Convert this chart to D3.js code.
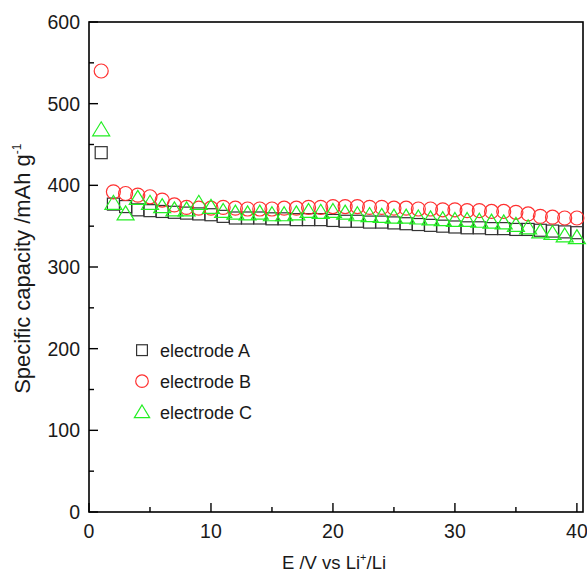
<!DOCTYPE html>
<html>
<head>
<meta charset="utf-8">
<script src="https://cdn.jsdelivr.net/npm/d3@7"></script>
<style>
  html, body { margin: 0; padding: 0; background: #fff; }
  svg { display: block; font-family: "Liberation Sans", Arial, sans-serif; }
</style>
</head>
<body>
<svg id="chart" width="587" height="573"></svg>
<script>
// Cycle number (x) for each measured point
const cycles = d3.range(1, 41);

// Specific capacity (mAh/g) per cycle for each electrode
const electrodeA = [440, 377, 374, 370, 369, 368, 367, 366, 365, 364,
                    362, 360, 360, 360, 359, 359, 358, 358, 358, 357,
                    356, 356, 355, 355, 354, 353, 352, 351, 350, 349,
                    348, 348, 347, 347, 346, 346, 345, 344, 343, 342];
const electrodeB = [540, 392, 390, 388, 386, 382, 376, 373, 372, 372,
                    373, 372, 371, 371, 371, 372, 372, 373, 373, 374,
                    374, 374, 373, 373, 372, 372, 371, 371, 370, 370,
                    369, 369, 368, 368, 367, 365, 362, 361, 360, 360];
const electrodeC = [468, 378, 365, 384, 378, 374, 370, 370, 378, 373,
                    368, 366, 365, 366, 364, 364, 365, 368, 367, 368,
                    366, 364, 363, 362, 361, 361, 360, 359, 358, 357,
                    357, 356, 355, 354, 351, 348, 343, 341, 338, 336];

const seriesNames = ["electrode A", "electrode B", "electrode C"];
const xTicks = [0, 10, 20, 30, 40];
const yTicks = [0, 100, 200, 300, 400, 500, 600];

const svg = d3.select("#chart");
const plotLeft = 89, plotRight = 583, plotTop = 22, plotBottom = 512;

const x = d3.scaleLinear().domain([0, 40.5]).range([plotLeft, plotRight]);
const y = d3.scaleLinear().domain([0, 600]).range([plotBottom, plotTop]);

const styles = [
  { color: "#333333", shape: "square" },
  { color: "#ff3030", shape: "circle" },
  { color: "#22ee22", shape: "triangle" }
];

// Frame
svg.append("rect")
  .attr("x", plotLeft).attr("y", plotTop)
  .attr("width", plotRight - plotLeft).attr("height", plotBottom - plotTop)
  .attr("fill", "none").attr("stroke", "#000").attr("stroke-width", 1.6);

// Inward ticks: major + minor
const tickColor = "#000";
const xMinor = d3.range(5, 41, 10);
const yMinor = d3.range(50, 600, 100);

svg.append("g").selectAll("line").data(xTicks).join("line")
  .attr("x1", d => x(d)).attr("x2", d => x(d))
  .attr("y1", plotBottom).attr("y2", plotBottom - 9)
  .attr("stroke", tickColor).attr("stroke-width", 1.4);
svg.append("g").selectAll("line").data(xMinor).join("line")
  .attr("x1", d => x(d)).attr("x2", d => x(d))
  .attr("y1", plotBottom).attr("y2", plotBottom - 5)
  .attr("stroke", tickColor).attr("stroke-width", 1.4);
svg.append("g").selectAll("line").data(yTicks).join("line")
  .attr("x1", plotLeft).attr("x2", plotLeft + 9)
  .attr("y1", d => y(d)).attr("y2", d => y(d))
  .attr("stroke", tickColor).attr("stroke-width", 1.4);
svg.append("g").selectAll("line").data(yMinor).join("line")
  .attr("x1", plotLeft).attr("x2", plotLeft + 5)
  .attr("y1", d => y(d)).attr("y2", d => y(d))
  .attr("stroke", tickColor).attr("stroke-width", 1.4);

// Tick labels
svg.append("g").selectAll("text").data(xTicks).join("text")
  .attr("x", d => x(d)).attr("y", plotBottom + 25.5)
  .attr("text-anchor", "middle").attr("font-size", 19.5).attr("fill", "#1a1a1a")
  .text(d => d);
svg.append("g").selectAll("text").data(yTicks).join("text")
  .attr("x", plotLeft - 9).attr("y", d => y(d) + 7)
  .attr("text-anchor", "end").attr("font-size", 19.5).attr("fill", "#1a1a1a")
  .text(d => d);

// Axis titles
const xt = svg.append("text")
  .attr("x", 334).attr("y", 569)
  .attr("text-anchor", "middle").attr("font-size", 18.5).attr("fill", "#1a1a1a");
xt.append("tspan").text("E /V vs Li");
xt.append("tspan").attr("font-size", 11).attr("dy", -8).text("+");
xt.append("tspan").attr("dy", 8).text("/Li");

const yt = svg.append("text")
  .attr("transform", `translate(30, ${y(298)}) rotate(-90)`)
  .attr("text-anchor", "middle").attr("font-size", 22).attr("fill", "#1a1a1a");
yt.append("tspan").text("Specific capacity /mAh g");
yt.append("tspan").attr("font-size", 12).attr("dy", -9).text("-1");

// Marker drawing
function drawMarker(g, shape, color, cx, cy, s = 1) {
  if (shape === "square") {
    g.append("rect").attr("x", cx - 6 * s).attr("y", cy - 6 * s)
      .attr("width", 12 * s).attr("height", 12 * s)
      .attr("fill", "none").attr("stroke", color).attr("stroke-width", 1.2);
  } else if (shape === "circle") {
    g.append("circle").attr("cx", cx).attr("cy", cy).attr("r", 7 * s)
      .attr("fill", "none").attr("stroke", color).attr("stroke-width", 1.2);
  } else {
    g.append("path")
      .attr("d", `M${cx},${cy - 8 * s} L${cx + 8.5 * s},${cy + 6 * s} L${cx - 8.5 * s},${cy + 6 * s} Z`)
      .attr("fill", "none").attr("stroke", color).attr("stroke-width", 1.2);
  }
}

const allSeries = [electrodeA, electrodeB, electrodeC];
allSeries.forEach((vals, i) => {
  const g = svg.append("g");
  vals.forEach((v, j) => drawMarker(g, styles[i].shape, styles[i].color, x(cycles[j]), y(v)));
});

// Legend
const legend = svg.append("g");
seriesNames.forEach((name, i) => {
  const ly = y(200) + 1.5 + i * 31;
  drawMarker(legend, styles[i].shape, styles[i].color, 142, ly, 0.9);
  legend.append("text").attr("x", 160).attr("y", ly + 6.5)
    .attr("font-size", 18).attr("fill", "#1a1a1a").text(name);
});
</script>
</body>
</html>
